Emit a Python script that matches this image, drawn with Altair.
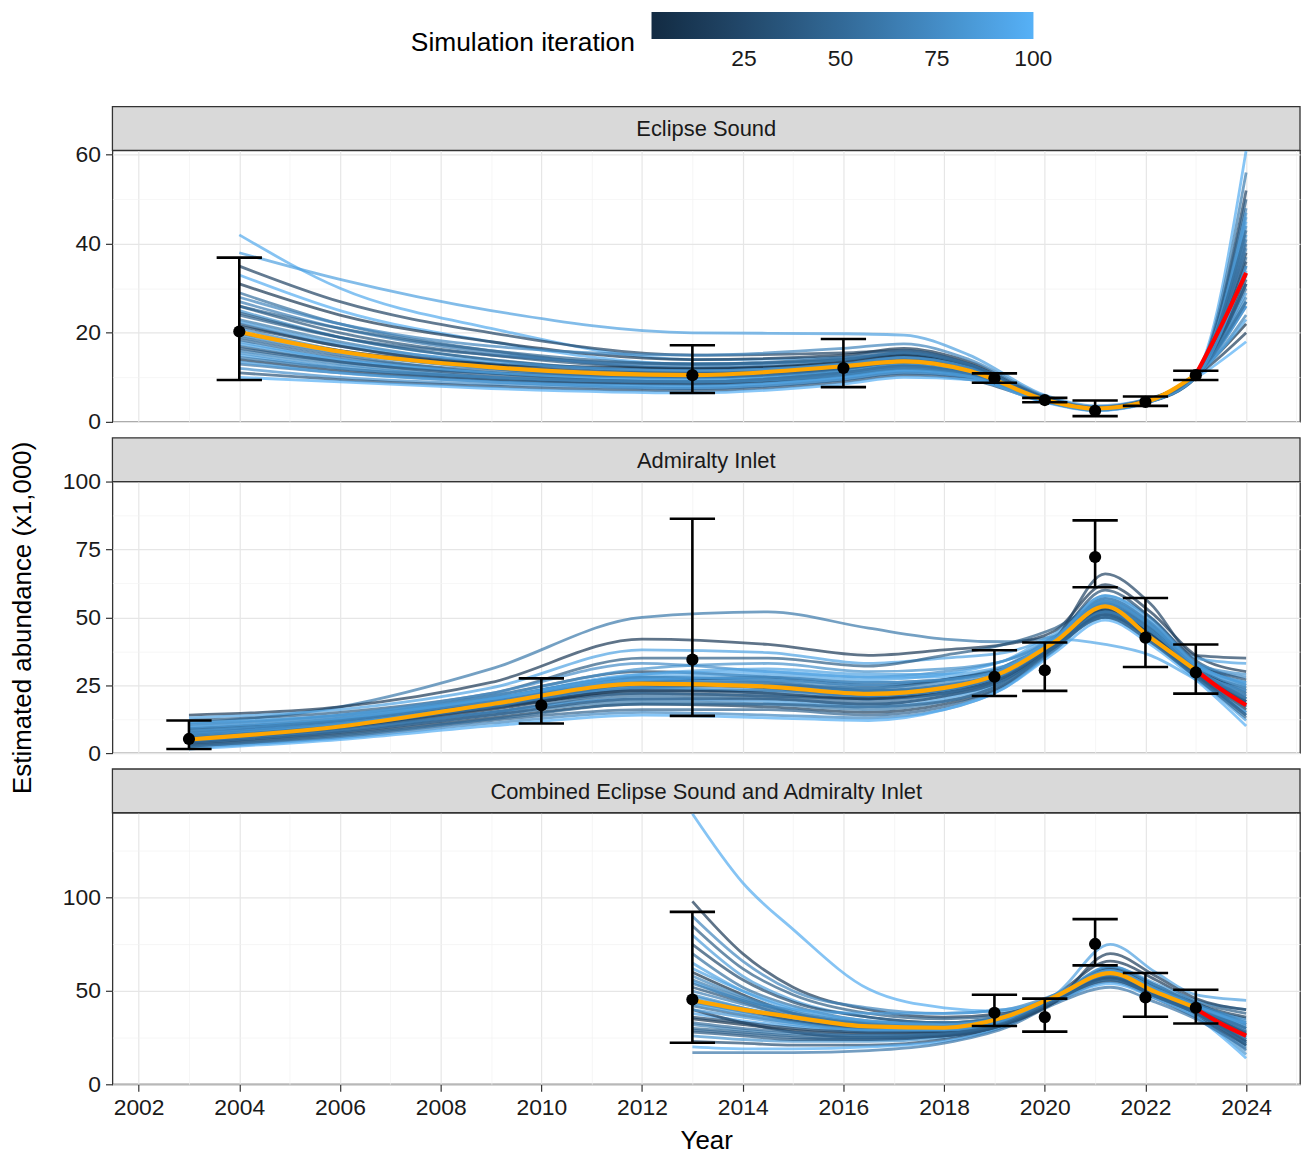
import altair as alt
import pandas as pd

FONT = "Liberation Sans"
W, H = 1194, 273
STRIP_H = 44
X_DOMAIN = [2001.48, 2025.07]
YEAR_VALUES = list(range(2002, 2026))

PANEL_NAMES = ["Eclipse Sound", "Admiralty Inlet",
               "Combined Eclipse Sound and Admiralty Inlet"]

# ---------------- Eclipse Sound ----------------
ES_KNOTS = [2004, 2006, 2009, 2013, 2016, 2017.2, 2018.5, 2020, 2021, 2022, 2023, 2024]
ES_ITER = [95, 88, 20, 97, 10, 55, 70, 35, 80, 45, 62, 28,
           74, 5, 50, 85, 40, 66, 92, 15, 58, 77, 32, 99,
           65, 42, 83, 22, 71, 52, 90, 38, 78, 60, 86, 48]
ES_SIMS = [
    [42, 30, 21, 14, 14.5, 15, 12, 5.3, 3.0, 4.5, 10.8, 45],
    [38, 32, 25, 20, 19.8, 19.5, 15, 6.0, 3.6, 5.0, 10.5, 26],
    [35, 27, 20, 15, 15.5, 16, 13, 5.5, 3.2, 4.8, 10.6, 52],
    [33, 25, 18, 13, 14, 15.5, 12.5, 5.2, 3.0, 4.6, 10.8, 61],
    [31, 24, 18, 14, 15, 16.5, 13.5, 5.6, 3.3, 4.9, 11.0, 38],
    [29, 22, 16, 12, 13, 14.5, 12, 5.0, 2.9, 4.5, 10.4, 30],
    [28, 22, 17, 15, 16.5, 17.5, 14, 5.8, 3.4, 5.0, 11.2, 48],
    [26, 20, 15, 12, 13.5, 15, 12.5, 5.2, 3.0, 4.6, 10.6, 35],
    [25, 19, 14, 11, 12, 13, 11, 4.8, 2.8, 4.4, 10.3, 42],
    [24, 19, 15, 13, 14.5, 16, 13, 5.4, 3.1, 4.7, 10.8, 27],
    [23, 18, 13, 10.5, 12, 13.5, 11.5, 5.0, 2.9, 4.5, 10.5, 56],
    [22, 17, 13, 11, 12.5, 14, 12, 5.1, 3.0, 4.6, 10.6, 33],
    [21, 16, 12, 10, 11.5, 13, 11, 4.9, 2.8, 4.4, 10.2, 44],
    [20, 16, 13, 12, 13.5, 15, 12.5, 5.3, 3.1, 4.7, 10.7, 22],
    [19, 15, 11, 9, 10.5, 12, 10.5, 4.7, 2.7, 4.3, 10.1, 37],
    [18, 14, 11, 9.5, 11.5, 13, 11.5, 5.0, 2.9, 4.5, 10.4, 29],
    [17, 13.5, 11, 10, 12, 13.5, 11.5, 5.0, 3.0, 4.6, 10.6, 50],
    [16, 13, 10, 8.5, 10, 11.5, 10, 4.6, 2.6, 4.2, 10.0, 24],
    [15, 12, 9.5, 8, 10, 11.5, 10.5, 4.8, 2.8, 4.4, 10.3, 34],
    [14, 11.5, 9.5, 8.5, 10.5, 12, 10.5, 4.8, 2.8, 4.4, 10.2, 20],
    [13, 11, 9, 7.5, 9.5, 11, 10, 4.6, 2.7, 4.3, 10.0, 41],
    [12, 10, 8.5, 7.5, 9.5, 11, 10, 4.7, 2.7, 4.3, 10.1, 26],
    [11, 9.5, 8, 7, 9, 10.5, 9.5, 4.5, 2.6, 4.2, 9.9, 31],
    [10, 9, 7.5, 6.5, 8.5, 10, 9.5, 4.4, 2.5, 4.1, 9.8, 18],
    [27, 21, 15.5, 12.5, 14, 15.5, 12.8, 5.3, 3.1, 4.6, 10.7, 39],
    [24.5, 19, 14, 11.5, 13, 14.5, 12.2, 5.1, 3.0, 4.5, 10.5, 31],
    [22.5, 17.5, 13.5, 11.5, 13, 14.5, 12.2, 5.1, 3.0, 4.6, 10.6, 46],
    [21.5, 17, 12.5, 10.5, 12, 13.5, 11.5, 5.0, 2.9, 4.5, 10.4, 36],
    [19.5, 15.5, 12, 10, 11.5, 13, 11.2, 4.9, 2.9, 4.4, 10.3, 28],
    [18.5, 14.5, 11.5, 10, 12, 13.5, 11.5, 5.0, 2.9, 4.5, 10.5, 40],
    [17.5, 14, 11, 9.5, 11, 12.5, 11, 4.9, 2.8, 4.4, 10.3, 23],
    [16.5, 13.5, 10.5, 9, 11, 12.5, 10.8, 4.8, 2.8, 4.4, 10.2, 32],
    [15.5, 12.5, 10, 9, 10.5, 12, 10.5, 4.8, 2.8, 4.4, 10.2, 47],
    [14.5, 12, 10, 9, 11, 12.5, 10.8, 4.8, 2.8, 4.4, 10.2, 27],
    [13.5, 11, 9, 8, 10, 11.5, 10.2, 4.7, 2.7, 4.3, 10.1, 35],
    [26, 21, 16, 13, 14, 15.5, 12.8, 5.3, 3.1, 4.6, 10.8, 43],
]
ES_MEAN = [20.2, 15.8, 12.3, 10.5, 12.5, 13.6, 11.5, 5.0, 3.0, 4.5, 10.6]
ES_PROJ_YEARS = [2023, 2023.5, 2024]
ES_PROJ = [10.6, 21.5, 33.5]
ES_OBS_YEARS = [2004, 2013, 2016, 2019, 2020, 2021, 2022, 2023]
ES_OBS = [20.3, 10.5, 12.1, 9.8, 4.9, 2.5, 4.5, 10.5]
ES_LO = [9.4, 6.5, 7.8, 8.8, 4.4, 1.3, 3.6, 9.4]
ES_HI = [36.9, 17.2, 18.6, 10.9, 5.4, 4.8, 5.7, 11.5]

# ---------------- Admiralty Inlet ----------------
AI_KNOTS = [2003, 2006, 2009, 2012, 2014.5, 2016.5, 2018, 2019.2, 2020.2, 2021.2, 2022.1, 2023, 2024]
AI_ITER = [60, 12, 90, 40, 75, 25, 95, 50, 82, 35, 68, 8,
           55, 88, 18, 45, 72, 98, 3, 30, 20, 92, 62, 78,
           65, 42, 83, 22, 71, 52, 90, 38, 78, 60, 86, 48]
AI_SIMS = [
    [11, 17, 31, 50, 52, 46, 42, 41, 43, 50, 45, 33, 25],
    [14, 17, 26, 42, 40, 36, 38, 40, 45, 62, 52, 36, 30],
    [13, 16, 24, 38, 37, 33, 35, 37, 44, 58, 50, 35, 33],
    [12, 15, 22, 35, 35, 32, 36, 40, 46, 55, 44, 31, 24],
    [10, 14, 22, 33, 30, 28, 30, 34, 42, 57, 48, 33, 28],
    [9, 13, 21, 30, 28, 25, 27, 31, 40, 54, 46, 32, 22],
    [8, 12, 20, 29, 30, 28, 28, 31, 41, 52, 43, 29, 19],
    [7, 12, 20, 28, 26, 23, 25, 30, 42, 56, 47, 31, 17],
    [6, 11, 19, 27, 27, 25, 27, 32, 43, 53, 42, 28, 14],
    [5.5, 10, 18, 26, 24, 21, 23, 29, 40, 55, 46, 32, 20],
    [5, 10, 17, 24, 22, 20, 22, 28, 41, 57, 48, 33, 26],
    [4.5, 9, 16, 23, 23, 21, 23, 28, 39, 51, 42, 29, 16],
    [4, 9, 15, 21, 20, 18, 21, 27, 40, 53, 44, 30, 21],
    [3.5, 8, 15, 20, 19, 17, 20, 27, 41, 55, 43, 28, 12],
    [3, 7, 13, 18, 17, 15, 18, 25, 38, 52, 44, 31, 23],
    [2.5, 6, 12, 16, 16, 14, 17, 25, 39, 50, 41, 28, 15],
    [2, 5.5, 11, 15, 14, 13, 16, 24, 38, 51, 43, 30, 18],
    [1.5, 5, 10, 14, 13, 12, 16, 24, 37, 49, 40, 27, 10],
    [7, 11, 17, 22, 21, 20, 23, 28, 40, 54, 45, 31, 19],
    [9, 12, 18, 24, 25, 24, 27, 32, 42, 60, 50, 34, 27],
    [6, 10, 17, 26, 28, 26, 27, 31, 42, 66, 55, 36, 35],
    [11, 14, 20, 28, 29, 27, 29, 34, 42, 40, 36, 27, 15],
    [4, 8, 14, 19, 18, 16, 19, 26, 39, 52, 43, 30, 20],
    [8, 12, 19, 27, 25, 22, 25, 30, 41, 56, 47, 32, 24],
    [7.5, 11.5, 19, 26, 26, 23, 25, 30, 41, 54, 45, 31, 21],
    [6.5, 11, 18, 25, 24, 22, 24, 30, 41, 53, 44, 30, 19],
    [6, 10.5, 17.5, 24, 23, 21, 23, 29, 40, 52, 43, 30, 23],
    [5, 9.5, 16.5, 23, 22, 20, 22, 28, 40, 53, 44, 30, 18],
    [8.5, 12.5, 20, 28, 27, 24, 26, 31, 42, 55, 46, 31, 22],
    [4, 8.5, 15, 22, 21, 19, 22, 28, 40, 52, 43, 29, 17],
    [9.5, 13, 20, 29, 31, 29, 29, 32, 42, 54, 45, 32, 26],
    [3.5, 7.5, 14, 20, 20, 18, 21, 27, 39, 51, 42, 29, 14],
    [10.5, 14, 21, 31, 33, 30, 31, 34, 43, 56, 47, 33, 29],
    [5.5, 10, 17, 25, 25, 23, 24, 29, 41, 54, 45, 31, 20],
    [7, 11, 18, 27, 28, 26, 27, 31, 42, 58, 49, 33, 25],
    [2.5, 6.5, 12.5, 18, 18, 17, 19, 26, 39, 50, 41, 28, 13],
]
AI_MEAN = [5.0, 9.8, 18.0, 25.6, 24.5, 21.8, 24.0, 30.0, 41.0, 54.0, 42.5, 30.5]
AI_PROJ_YEARS = [2023, 2023.5, 2024]
AI_PROJ = [30.5, 23.5, 17.6]
AI_OBS_YEARS = [2003, 2010, 2013, 2019, 2020, 2021, 2022, 2023]
AI_OBS = [5.2, 17.6, 34.4, 28.1, 30.5, 72.2, 42.5, 29.7]
AI_LO = [1.5, 10.9, 13.7, 21.0, 22.9, 61.1, 31.7, 21.9]
AI_HI = [12.0, 27.5, 86.3, 37.9, 40.7, 85.7, 57.1, 40.0]

# ---------------- Combined ----------------
CB_KNOTS = [2013, 2014, 2015, 2016.5, 2018, 2019.2, 2020.2, 2021.3, 2022.2, 2023, 2024]
CB_ITER = [96, 12, 70, 40, 85, 25, 55, 90, 5, 62, 33, 78,
           18, 48, 93, 8, 66, 45, 80, 28, 99, 58, 88, 15,
           65, 42, 83, 22, 71, 52, 90, 38, 78, 60, 86, 48]
CB_SIMS = [
    [145, 108, 83, 51, 41, 39, 47, 58, 51, 42, 30],
    [98, 70, 52, 40, 36, 38, 48, 66, 56, 44, 32],
    [90, 66, 50, 41, 38, 40, 48, 62, 52, 42, 35],
    [85, 62, 48, 38, 35, 37, 47, 60, 52, 44, 38],
    [80, 58, 45, 36, 33, 36, 47, 63, 54, 45, 40],
    [75, 56, 44, 36, 33, 36, 46, 58, 50, 41, 28],
    [70, 52, 42, 34, 32, 35, 46, 60, 52, 43, 33],
    [65, 50, 40, 33, 31, 35, 47, 61, 50, 40, 25],
    [60, 48, 38, 32, 31, 35, 46, 59, 49, 40, 27],
    [56, 46, 38, 33, 33, 37, 47, 57, 47, 39, 22],
    [52, 44, 36, 31, 30, 34, 46, 60, 51, 42, 30],
    [48, 41, 35, 31, 31, 35, 46, 58, 48, 39, 20],
    [45, 40, 34, 30, 29, 34, 46, 62, 53, 43, 36],
    [42, 37, 33, 29, 29, 34, 45, 59, 50, 41, 28],
    [38, 34, 31, 28, 28, 33, 45, 57, 48, 39, 24],
    [35, 32, 29, 27, 28, 33, 45, 59, 50, 40, 26],
    [32, 29, 27, 26, 27, 33, 46, 60, 49, 38, 18],
    [29, 27, 25, 24, 26, 32, 45, 56, 47, 38, 23],
    [26, 24, 23, 23, 25, 32, 44, 58, 48, 37, 16],
    [23, 22, 21, 21, 24, 31, 44, 55, 46, 36, 21],
    [20, 19, 19, 20, 23, 31, 44, 54, 46, 36, 14],
    [17, 17, 17, 18, 22, 30, 43, 52, 44, 35, 19],
    [55, 45, 40, 38, 38, 40, 48, 75, 60, 48, 45],
    [40, 33, 28, 25, 26, 32, 44, 70, 58, 46, 40],
    [50, 43, 37, 32, 31, 35, 46, 60, 50, 41, 29],
    [44, 39, 34, 30, 30, 34, 46, 59, 49, 40, 27],
    [40, 36, 32, 29, 29, 34, 45, 58, 49, 40, 25],
    [36, 33, 30, 28, 28, 33, 45, 57, 48, 39, 23],
    [58, 47, 39, 33, 31, 35, 46, 61, 51, 42, 31],
    [33, 30, 28, 26, 27, 33, 45, 58, 48, 39, 24],
    [62, 50, 41, 34, 32, 36, 46, 60, 50, 41, 33],
    [28, 26, 24, 24, 26, 32, 45, 57, 47, 38, 21],
    [47, 41, 36, 32, 31, 35, 46, 63, 53, 43, 34],
    [54, 45, 38, 32, 30, 34, 46, 59, 50, 41, 30],
    [43, 38, 33, 29, 29, 34, 46, 61, 51, 42, 32],
    [30, 28, 26, 25, 27, 33, 45, 56, 47, 38, 22],
]
CB_MEAN = [45.0, 40.0, 36.0, 31.0, 30.3, 36.0, 47.0, 59.6, 49.5, 41.0]
CB_PROJ_YEARS = [2023, 2023.5, 2024]
CB_PROJ = [40.5, 32.5, 26.0]
CB_OBS_YEARS = [2013, 2019, 2020, 2021, 2022, 2023]
CB_OBS = [45.4, 38.3, 36.0, 75.2, 46.6, 41.0]
CB_LO = [22.3, 31.2, 28.2, 63.7, 36.2, 32.6]
CB_HI = [92.4, 48.0, 45.9, 88.5, 59.6, 50.7]

Y_DOMAINS = [[0, 61], [0, 100], [0, 145.5]]
Y_VALUES = [[0, 10, 20, 30, 40, 50, 60],
            [0, 12.5, 25, 37.5, 50, 62.5, 75, 87.5, 100],
            [0, 25, 50, 75, 100, 125]]
Y_STEPS = [20, 25, 50]

COLOR_SCALE = alt.Scale(domain=[1, 100.05], range=["#132B43", "#56B1F7"], interpolate="lab")
LEGEND = alt.Legend(
    orient="none", legendX=300, legendY=-139, direction="horizontal",
    title="Simulation iteration", titleOrient="left", titleAnchor="middle",
    titleBaseline="line-top", titleLineHeight=34, titleFontSize=26.5,
    titleFontWeight="normal",
    titleColor="#000000", titleFont=FONT, titlePadding=16, titleLimit=600,
    gradientLength=384, gradientThickness=27, gradientStrokeWidth=0,
    values=[25, 50, 75, 100], labelFontSize=23, labelColor="#1a1a1a",
    labelFont=FONT, labelOffset=9, labelAlign="center",
)

MAJOR_GRID = "#e6e6e6"
MINOR_GRID = "#f2f2f2"


def x_axis(bottom):
    cond_grid = {"condition": {"test": "datum.value % 2 === 0", "value": MAJOR_GRID}, "value": MINOR_GRID}
    cond_gw = {"condition": {"test": "datum.value % 2 === 0", "value": 1.2}, "value": 0.7}
    if bottom:
        return alt.Axis(values=YEAR_VALUES, format="d",
                        labelExpr="datum.value % 2 === 0 ? datum.label : ''",
                        tickOpacity={"condition": {"test": "datum.value % 2 === 0", "value": 1}, "value": 0},
                        title="Year", grid=True, gridColor=cond_grid, gridWidth=cond_gw,
                        titlePadding=9)
    return alt.Axis(values=YEAR_VALUES, labels=False, ticks=False, title=None,
                    grid=True, gridColor=cond_grid, gridWidth=cond_gw)


def y_axis(values, step, title):
    test = f"datum.value % {step} === 0"
    kw = dict(values=values,
              labelExpr=f"{test} ? datum.label : ''",
              tickOpacity={"condition": {"test": test, "value": 1}, "value": 0},
              grid=True,
              gridColor={"condition": {"test": test, "value": MAJOR_GRID}, "value": MINOR_GRID},
              gridWidth={"condition": {"test": test, "value": 1.2}, "value": 0.7})
    if title:
        kw["title"] = title
        kw["titlePadding"] = 27
    else:
        kw["title"] = None
    return alt.Axis(**kw)


def build_panel(i, knots, iters, sims, mean, proj_years, proj,
                obs_years, obs, lo, hi, bottom, y_title):
    name = PANEL_NAMES[i]
    rows = []
    for k, (it, vals) in enumerate(zip(iters, sims)):
        for yr, v in zip(knots, vals):
            rows.append({"sim": k, "iter": it, "year": yr, "value": v})
    sim_df = pd.DataFrame(rows)
    mean_df = pd.DataFrame({"year": knots[:len(mean)], "value": mean})
    proj_df = pd.DataFrame({"year": proj_years, "value": proj})
    obs_df = pd.DataFrame({"year": obs_years, "value": obs, "lo": lo, "hi": hi})
    strip_df = pd.DataFrame({"panel": [name]})

    xs = alt.Scale(domain=X_DOMAIN, nice=False, zero=False)
    ys = alt.Scale(domain=Y_DOMAINS[i], nice=False, zero=False)
    xa = x_axis(bottom)
    ya = y_axis(Y_VALUES[i], Y_STEPS[i], y_title)

    def X(f):
        return alt.X(f"{f}:Q", scale=xs, axis=xa)

    def Y(f):
        return alt.Y(f"{f}:Q", scale=ys, axis=ya)

    lines = alt.Chart(sim_df).mark_line(
        interpolate="monotone", strokeWidth=2.8, strokeOpacity=0.7, clip=True
    ).encode(
        x=X("year"), y=Y("value"),
        color=alt.Color("iter:Q", scale=COLOR_SCALE, legend=LEGEND),
        detail="sim:N",
    )
    mean_line = alt.Chart(mean_df).mark_line(
        interpolate="monotone", color="#FFA500", strokeWidth=4.2
    ).encode(x=X("year"), y=Y("value"))
    proj_line = alt.Chart(proj_df).mark_line(
        interpolate="monotone", color="#FF0000", strokeWidth=4.2
    ).encode(x=X("year"), y=Y("value"))
    err = alt.Chart(obs_df).mark_rule(color="black", strokeWidth=2.6).encode(
        x=X("year"), y=Y("lo"), y2="hi:Q")
    caps = alt.Chart(obs_df).transform_calculate(
        xl="datum.year - 0.45", xr="datum.year + 0.45"
    ).transform_fold(["lo", "hi"], as_=["end", "yv"]).mark_rule(
        color="black", strokeWidth=2.6
    ).encode(x=X("xl"), x2="xr:Q", y=Y("yv"))
    pts = alt.Chart(obs_df).mark_circle(size=150, color="black", opacity=1).encode(
        x=X("year"), y=Y("value"))
    strip_rect = alt.Chart(strip_df).mark_rect(
        fill="#d9d9d9", stroke="#333333", strokeWidth=1.3
    ).encode(x=alt.value(0), x2=alt.value(W), y=alt.value(-STRIP_H), y2=alt.value(0))
    strip_text = alt.Chart(strip_df).mark_text(
        fontSize=22, color="#1a1a1a", font=FONT, baseline="middle", align="center"
    ).encode(x=alt.value(W / 2), y=alt.value(-STRIP_H / 2 + 1), text="panel:N")

    return alt.layer(lines, mean_line, proj_line, err, caps, pts,
                     strip_rect, strip_text).properties(width=W, height=H)


p1 = build_panel(0, ES_KNOTS, ES_ITER, ES_SIMS, ES_MEAN, ES_PROJ_YEARS, ES_PROJ,
                 ES_OBS_YEARS, ES_OBS, ES_LO, ES_HI, False, None)
p2 = build_panel(1, AI_KNOTS, AI_ITER, AI_SIMS, AI_MEAN, AI_PROJ_YEARS, AI_PROJ,
                 AI_OBS_YEARS, AI_OBS, AI_LO, AI_HI, False, "Estimated abundance (x1,000)")
p3 = build_panel(2, CB_KNOTS, CB_ITER, CB_SIMS, CB_MEAN, CB_PROJ_YEARS, CB_PROJ,
                 CB_OBS_YEARS, CB_OBS, CB_LO, CB_HI, True, None)

chart = alt.vconcat(p1, p2, p3, spacing=60, bounds="flush").resolve_scale(
    color="shared"
).properties(
    padding={"left": 0, "top": 1, "right": 0, "bottom": 0}
).configure_view(
    stroke="#333333", strokeWidth=1.3
).configure_axis(
    labelFont=FONT, titleFont=FONT, labelFontSize=23, labelColor="#1a1a1a",
    titleFontSize=26, titleFontWeight="normal", titleColor="#000000",
    tickColor="#333333", tickSize=7, tickWidth=1.2, labelPadding=5, domain=False,
)

chart.save("out.html", embed_options={"renderer": "svg", "actions": False})
